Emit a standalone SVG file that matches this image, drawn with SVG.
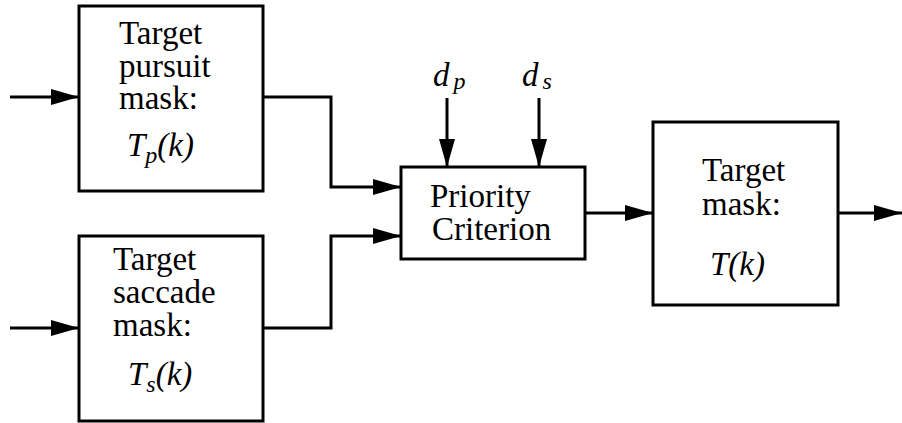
<svg xmlns="http://www.w3.org/2000/svg" width="902" height="423" viewBox="0 0 902 423">
  <defs>
    <marker id="arr" markerUnits="userSpaceOnUse" markerWidth="30" markerHeight="20" refX="28" refY="10" orient="auto">
      <path d="M0,2 L28,10 L0,18 Z" fill="#000"/>
    </marker>
  </defs>
  <rect width="902" height="423" fill="#fff"/>

  <!-- signal lines, all drawn with the same stroke and arrowhead -->
  <g id="connectors" fill="none" stroke="#000" stroke-width="3">
    <path d="M10,97 H79" marker-end="url(#arr)"/>
    <path d="M10,328 H79" marker-end="url(#arr)"/>
    <path d="M263,97 H331 V187 H401" marker-end="url(#arr)"/>
    <path d="M263,328 H331 V236 H401" marker-end="url(#arr)"/>
    <path d="M447,98 V167" marker-end="url(#arr)"/>
    <path d="M539,98 V167" marker-end="url(#arr)"/>
    <path d="M585,213 H653" marker-end="url(#arr)"/>
    <path d="M838,213 H902" marker-end="url(#arr)"/>
  </g>

  <g id="pursuit">
    <rect x="79" y="6" width="184" height="185" fill="#fff" stroke="#000" stroke-width="3"/>
    <text x="119" y="44" font-family="Liberation Serif, serif" font-size="33">Target</text>
    <text x="119" y="77" font-family="Liberation Serif, serif" font-size="33">pursuit</text>
    <text x="119" y="109" font-family="Liberation Serif, serif" font-size="33">mask:</text>
    <text x="127" y="156" font-family="Liberation Serif, serif" font-size="33" font-style="italic">T<tspan font-size="24" dy="7">p</tspan><tspan dy="-7">(k)</tspan></text>
  </g>

  <g id="saccade">
    <rect x="79" y="236" width="184" height="185" fill="#fff" stroke="#000" stroke-width="3"/>
    <text x="113" y="270" font-family="Liberation Serif, serif" font-size="33">Target</text>
    <text x="113" y="303" font-family="Liberation Serif, serif" font-size="33">saccade</text>
    <text x="113" y="336" font-family="Liberation Serif, serif" font-size="33">mask:</text>
    <text x="128" y="385" font-family="Liberation Serif, serif" font-size="33" font-style="italic">T<tspan font-size="24" dy="7">s</tspan><tspan dy="-7">(k)</tspan></text>
  </g>

  <g id="priority">
    <rect x="401" y="167" width="184" height="92" fill="#fff" stroke="#000" stroke-width="3"/>
    <text x="430" y="207" font-family="Liberation Serif, serif" font-size="33">Priority</text>
    <text x="432" y="240" font-family="Liberation Serif, serif" font-size="33">Criterion</text>
  </g>

  <g id="disturbances">
    <text x="433" y="86" font-family="Liberation Serif, serif" font-size="33" font-style="italic">d<tspan font-size="24" dx="4" dy="3">p</tspan></text>
    <text x="522" y="86" font-family="Liberation Serif, serif" font-size="33" font-style="italic">d<tspan font-size="24" dx="4" dy="3">s</tspan></text>
  </g>

  <g id="target">
    <rect x="653" y="122" width="185" height="183" fill="#fff" stroke="#000" stroke-width="3"/>
    <text x="702" y="181" font-family="Liberation Serif, serif" font-size="33">Target</text>
    <text x="702" y="215" font-family="Liberation Serif, serif" font-size="33">mask:</text>
    <text x="710" y="275" font-family="Liberation Serif, serif" font-size="33" font-style="italic">T(k)</text>
  </g>
</svg>
